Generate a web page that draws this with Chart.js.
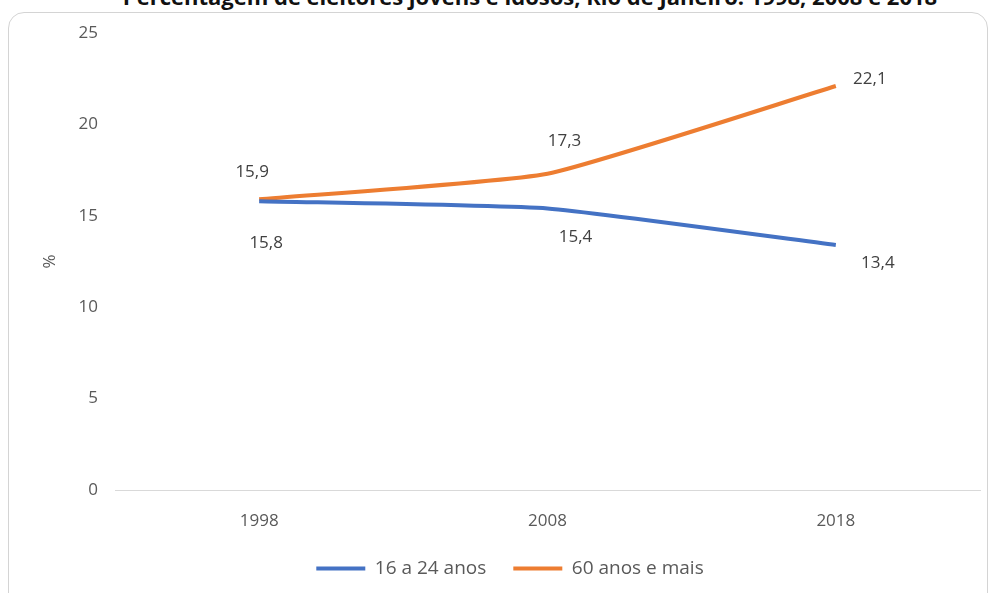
<!DOCTYPE html>
<html>
<head>
<meta charset="utf-8">
<script src="https://cdn.jsdelivr.net/npm/chart.js@4/dist/chart.umd.min.js"></script>
<style>
  html, body { margin: 0; padding: 0; background: #fff; overflow: hidden; }
  #wrap { position: relative; width: 997px; height: 593px; }
  #frame {
    position: absolute; left: 8px; top: 12px; width: 980px; height: 620px;
    border: 1px solid #d4d4d4; border-radius: 16px; box-sizing: border-box;
  }
  #title {
    position: absolute; left: 0; width: 1060px; top: -19px; text-align: center;
    font: bold 22px "Open Sans", sans-serif; color: #111; white-space: nowrap;
  }
  canvas { position: absolute; left: 0; top: 0; }
</style>
</head>
<body>
<div id="wrap">
  <div id="frame"></div>
  <div id="title">Percentagem de eleitores jovens e idosos, Rio de Janeiro: 1998, 2008 e 2018</div>
  <canvas id="chart" width="997" height="593"></canvas>
</div>
<script>
/* ---- Данные ---- */
const YEARS = ["1998", "2008", "2018"];
const YOUNG = [15.8, 15.4, 13.4];   // 16 a 24 anos
const OLD   = [15.9, 17.3, 22.1];   // 60 anos e mais
const SERIES_NAMES = ["16 a 24 anos", "60 anos e mais"];
const Y_TICKS = [0, 5, 10, 15, 20, 25];

// смещения подписей значений относительно точки (px)
const LABEL_OFFSETS = [
  [[7, 42], [28, 29], [42, 18]],
  [[-7, -27], [17, -33], [34, -7]]
];

const TEXT = "#595959";
const FONT = "'Open Sans', sans-serif";

/* ---- Подписи значений ---- */
const valueLabels = {
  id: "valueLabels",
  afterDatasetsDraw(chart) {
    const ctx = chart.ctx;
    ctx.save();
    ctx.font = "17px " + FONT;
    ctx.fillStyle = "#404040";
    ctx.textAlign = "center";
    ctx.textBaseline = "middle";
    chart.data.datasets.forEach((ds, i) => {
      chart.getDatasetMeta(i).data.forEach((pt, j) => {
        const off = LABEL_OFFSETS[i][j];
        ctx.fillText(String(ds.data[j]).replace(".", ","), pt.x + off[0], pt.y + off[1]);
      });
    });
    ctx.restore();
  }
};

new Chart(document.getElementById("chart"), {
  type: "line",
  data: {
    labels: YEARS,
    datasets: [
      { label: SERIES_NAMES[0], data: YOUNG, borderColor: "#4472C4", backgroundColor: "#4472C4",
        borderWidth: 4, pointRadius: 0, tension: 0.15, fill: false },
      { label: SERIES_NAMES[1], data: OLD, borderColor: "#ED7D31", backgroundColor: "#ED7D31",
        borderWidth: 4, pointRadius: 0, tension: 0.15, fill: false }
    ]
  },
  options: {
    responsive: false, animation: false,
    layout: { padding: { left: 40, right: 17, top: 33, bottom: 5 } },
    plugins: {
      tooltip: { enabled: false },
      legend: {
        position: "bottom",
        labels: {
          usePointStyle: true, pointStyle: "line", pointStyleWidth: 49,
          color: TEXT, font: { family: FONT, size: 19 }, padding: 27
        }
      }
    },
    scales: {
      x: {
        offset: true,
        grid: { display: false, offset: true },
        border: { display: true, color: "#d9d9d9", width: 1 },
        ticks: { color: TEXT, font: { family: FONT, size: 17 }, padding: 13 },
        afterFit: s => { s.height = 42; }
      },
      y: {
        min: 0, max: 25,
        afterBuildTicks: s => { s.ticks = Y_TICKS.map(v => ({ value: v })); },
        grid: { display: false },
        border: { display: false },
        ticks: { color: TEXT, font: { family: FONT, size: 17 }, padding: 9 },
        title: { display: true, text: "%", color: TEXT, font: { family: FONT, size: 17 }, padding: 0 },
        afterFit: s => { s.width = 75; }
      }
    }
  },
  plugins: [valueLabels]
});
</script>
</body>
</html>
